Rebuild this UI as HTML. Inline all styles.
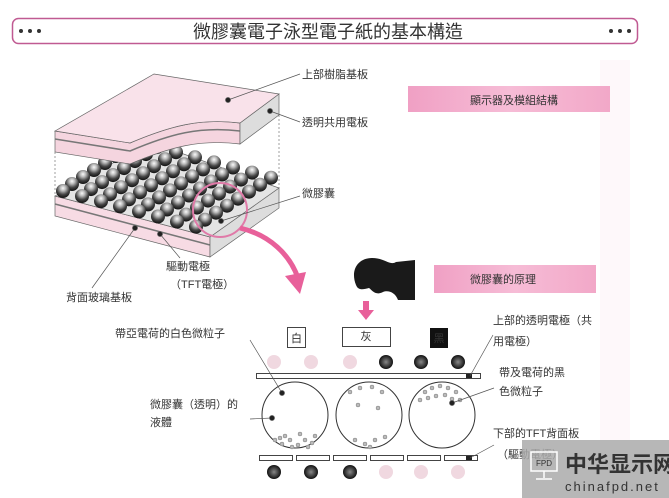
<!DOCTYPE html>
<html><head><meta charset="utf-8"><style>
html,body{margin:0;padding:0;background:#fff}
svg{display:block}
text{font-family:"Liberation Sans","Noto Sans CJK TC",sans-serif;fill:#333}
</style></head><body>
<svg width="669" height="498" viewBox="0 0 669 498" xmlns="http://www.w3.org/2000/svg" xmlns:xlink="http://www.w3.org/1999/xlink">
<defs>
<radialGradient id="bg1" cx="0.5" cy="0.3" r="0.65"><stop offset="0" stop-color="#fafafa"/><stop offset="0.3" stop-color="#bbb"/><stop offset="0.7" stop-color="#444"/><stop offset="1" stop-color="#1a1a1a"/></radialGradient>
<g id="row">
<circle cx="0" cy="0" r="7" fill="url(#bg1)"/><circle cx="19" cy="5.1" r="7" fill="url(#bg1)"/><circle cx="38" cy="10.2" r="7" fill="url(#bg1)"/><circle cx="57" cy="15.3" r="7" fill="url(#bg1)"/><circle cx="76" cy="20.4" r="7" fill="url(#bg1)"/><circle cx="95" cy="25.5" r="7" fill="url(#bg1)"/><circle cx="114" cy="30.6" r="7" fill="url(#bg1)"/><circle cx="133" cy="35.7" r="7" fill="url(#bg1)"/>
</g>
<radialGradient id="ion" cx="0.5" cy="0.5" r="0.5"><stop offset="0" stop-color="#888"/><stop offset="1" stop-color="#111"/></radialGradient>
<linearGradient id="pk" x1="0" x2="1"><stop offset="0" stop-color="#f0a0c4"/><stop offset="0.5" stop-color="#f6bcd6"/><stop offset="1" stop-color="#f2a8c8"/></linearGradient>
</defs>
<rect x="12.5" y="18.5" width="625" height="25" rx="6" fill="#fff" stroke="#c05a92" stroke-width="1.5"/>
<g fill="#333"><circle cx="21" cy="31" r="2"/><circle cx="30" cy="31" r="2"/><circle cx="39" cy="31" r="2"/><circle cx="611" cy="31" r="2"/><circle cx="620" cy="31" r="2"/><circle cx="629" cy="31" r="2"/></g>
<text x="328" y="38" font-size="18" text-anchor="middle" fill="#222">微膠囊電子泳型電子紙的基本構造</text>
<rect x="600" y="60" width="30" height="380" fill="#fef8fa"/>
<polygon points="55,196 210,237 210,257 55,216" fill="#f7dbe4" stroke="#666" stroke-width="0.7"/>
<line x1="55" y1="204" x2="210" y2="245" stroke="#777" stroke-width="1.5"/>
<polygon points="210,237 279,188 279,208 210,257" fill="#ddd" stroke="#666" stroke-width="0.7"/>
<polygon points="55,196 150,142 279,188 210,237" fill="#e4e4e4" stroke="#666" stroke-width="0.7"/>
<use xlink:href="#row" transform="translate(138,142)"/>
<use xlink:href="#row" transform="translate(127,149)"/>
<use xlink:href="#row" transform="translate(116,156)"/>
<use xlink:href="#row" transform="translate(105,163)"/>
<use xlink:href="#row" transform="translate(94,170)"/>
<use xlink:href="#row" transform="translate(83,177)"/>
<use xlink:href="#row" transform="translate(72,184)"/>
<use xlink:href="#row" transform="translate(63,191)"/>
<g stroke="#888" stroke-dasharray="2,2" stroke-width="0.8"><line x1="55" y1="152" x2="55" y2="196"/><line x1="279" y1="115" x2="279" y2="188"/></g>
<path d="M55,131 L130,143 C170,126 200,118 240,123 L240,144 C200,139 170,147 130,164 L55,152 Z" fill="#f5d5df" stroke="#666" stroke-width="0.7"/>
<path d="M55,139 L130,151 C170,134 200,126 240,131" fill="none" stroke="#777" stroke-width="1.5"/>
<polygon points="240,123 279,94 279,115 240,144" fill="#ddd" stroke="#666" stroke-width="0.7"/>
<path d="M55,131 L154,74 L279,94 L240,123 C200,118 170,126 130,143 Z" fill="#f9e2ea" stroke="#666" stroke-width="0.7"/>
<circle cx="220" cy="210" r="27" fill="none" stroke="#e07aa8" stroke-width="2"/>
<path d="M240,228 C270,235 290,255 298,278" fill="none" stroke="#e8609a" stroke-width="5"/>
<polygon points="285,276 306,272 300,294" fill="#e8609a"/>
<g stroke="#555" stroke-width="0.7" fill="#222">
<line x1="228" y1="100" x2="300" y2="74"/><circle cx="228" cy="100" r="2.5"/>
<line x1="270" y1="111" x2="300" y2="122"/><circle cx="270" cy="111" r="2.5"/>
<line x1="221" y1="221" x2="300" y2="196"/><circle cx="221" cy="221" r="2.5"/>
<line x1="135" y1="228" x2="92" y2="288"/><circle cx="135" cy="228" r="2.5"/>
<line x1="160" y1="234" x2="180" y2="258"/><circle cx="160" cy="234" r="2.5"/>
</g>
<g font-size="11">
<text x="302" y="78">上部樹脂基板</text>
<text x="302" y="126">透明共用電板</text>
<text x="302" y="197">微膠囊</text>
<text x="166" y="270">驅動電極</text>
<text x="170" y="288">（TFT電極）</text>
<text x="66" y="301">背面玻璃基板</text>
</g>
<rect x="408" y="86" width="202" height="26" fill="url(#pk)"/>
<text x="470" y="104" font-size="11">顯示器及模組結構</text>
<rect x="434" y="265" width="162" height="28" fill="url(#pk)"/>
<text x="470" y="283" font-size="11">微膠囊的原理</text>
<path d="M356,285 C350,270 358,258 372,258 C385,258 390,266 396,262 L415,260 L415,300 L398,300 C395,292 388,290 383,292 C375,296 372,290 369,288 C362,290 358,290 356,285 Z" fill="#1a1a1a"/>
<rect x="363" y="301" width="6" height="10" fill="#e8609a"/><polygon points="358,310 374,310 366,320" fill="#e8609a"/>
<rect x="287.5" y="327.5" width="18" height="20" fill="#fff" stroke="#444"/><text x="296.5" y="342" font-size="11" text-anchor="middle">白</text>
<rect x="342.5" y="327.5" width="48" height="19" fill="#fff" stroke="#444"/><text x="366" y="340" font-size="11" text-anchor="middle">灰</text>
<rect x="430" y="328" width="18" height="20" fill="#111"/><text x="439" y="342" font-size="11" text-anchor="middle" fill="#fff">黑</text>
<g fill="#f0d8e0"><circle cx="274" cy="362" r="7"/><circle cx="311" cy="362" r="7"/><circle cx="350" cy="362" r="7"/></g>
<g fill="url(#ion)"><circle cx="386" cy="362" r="7"/><circle cx="421" cy="362" r="7"/><circle cx="458" cy="362" r="7"/></g>
<g fill="url(#ion)"><circle cx="274" cy="472" r="7"/><circle cx="311" cy="472" r="7"/><circle cx="350" cy="472" r="7"/></g>
<g fill="#f0d8e0"><circle cx="386" cy="472" r="7"/><circle cx="421" cy="472" r="7"/><circle cx="458" cy="472" r="7"/></g>
<rect x="256.5" y="373.5" width="224" height="5" fill="#fff" stroke="#444"/>
<rect x="466" y="374" width="6" height="4" fill="#222"/>
<g fill="#fff" stroke="#444"><rect x="259.5" y="455.5" width="33" height="5"/><rect x="296.5" y="455.5" width="33" height="5"/><rect x="333.5" y="455.5" width="33" height="5"/><rect x="370.5" y="455.5" width="33" height="5"/><rect x="407.5" y="455.5" width="33" height="5"/><rect x="444.5" y="455.5" width="33" height="5"/></g>
<rect x="466" y="456" width="6" height="4" fill="#222"/>
<g fill="#fff" stroke="#333" stroke-width="1"><circle cx="295" cy="415" r="33"/><circle cx="369" cy="415" r="33"/><circle cx="442" cy="415" r="33"/></g>
<g fill="#bbb" stroke="#777" stroke-width="0.5">
<circle cx="275" cy="440" r="2"/><circle cx="282" cy="444" r="2"/><circle cx="290" cy="440" r="2"/><circle cx="298" cy="445" r="2"/><circle cx="305" cy="440" r="2"/><circle cx="312" cy="443" r="2"/><circle cx="285" cy="436" r="2"/><circle cx="300" cy="434" r="2"/><circle cx="315" cy="436" r="2"/><circle cx="292" cy="447" r="2"/><circle cx="280" cy="438" r="2"/><circle cx="308" cy="447" r="2"/>
<circle cx="350" cy="392" r="2"/><circle cx="360" cy="388" r="2"/><circle cx="372" cy="387" r="2"/><circle cx="382" cy="392" r="2"/><circle cx="358" cy="405" r="2"/><circle cx="378" cy="408" r="2"/><circle cx="355" cy="440" r="2"/><circle cx="365" cy="444" r="2"/><circle cx="375" cy="440" r="2"/><circle cx="385" cy="437" r="2"/><circle cx="370" cy="447" r="2"/>
<circle cx="425" cy="392" r="2"/><circle cx="432" cy="388" r="2"/><circle cx="440" cy="386" r="2"/><circle cx="448" cy="388" r="2"/><circle cx="456" cy="392" r="2"/><circle cx="428" cy="398" r="2"/><circle cx="436" cy="396" r="2"/><circle cx="445" cy="395" r="2"/><circle cx="452" cy="399" r="2"/><circle cx="420" cy="400" r="2"/><circle cx="460" cy="400" r="2"/>
</g>
<g stroke="#555" stroke-width="0.7" fill="#222">
<line x1="250" y1="340" x2="282" y2="393"/><circle cx="282" cy="393" r="2.5"/>
<line x1="250" y1="419" x2="272" y2="418"/><circle cx="272" cy="418" r="2.5"/>
<line x1="452" y1="403" x2="494" y2="388"/><circle cx="452" cy="403" r="2.5"/>
<line x1="470" y1="376" x2="493" y2="335"/>
<line x1="470" y1="458" x2="494" y2="445"/>
</g>
<g font-size="11">
<text x="115" y="337">帶亞電荷的白色微粒子</text>
<text x="150" y="408">微膠囊（透明）的</text>
<text x="150" y="426">液體</text>
<text x="493" y="324">上部的透明電極（共</text>
<text x="493" y="345">用電極）</text>
<text x="499" y="376">帶及電荷的黑</text>
<text x="499" y="395">色微粒子</text>
<text x="493" y="437">下部的TFT背面板</text>
<text x="497" y="458">（驅動電極）</text>
</g>
<rect x="522" y="440" width="147" height="58" fill="#aaa" opacity="0.85"/>
<rect x="531" y="452" width="26" height="19" fill="none" stroke="#fff" stroke-width="1.5"/>
<text x="544" y="466" font-size="8" fill="#fff" text-anchor="middle">FPD</text>
<line x1="544" y1="471" x2="544" y2="478" stroke="#fff" stroke-width="1.5"/><line x1="536" y1="479" x2="552" y2="479" stroke="#fff" stroke-width="1.5"/>
<text x="565" y="472" font-size="22" font-weight="bold" fill="#fff">中华显示网</text>
<text x="565" y="491" font-size="13" fill="#fff" letter-spacing="2">chinafpd.net</text>
</svg>
</body></html>
